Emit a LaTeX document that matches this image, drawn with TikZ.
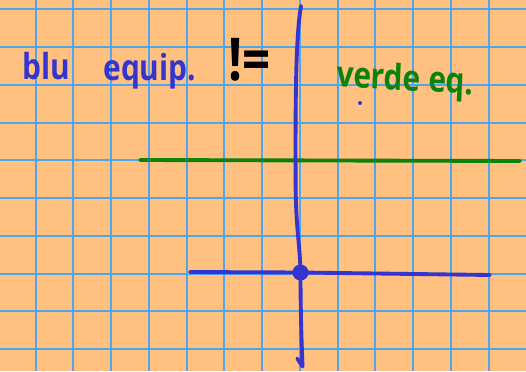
\documentclass[tikz,border=0pt]{standalone}
\usepackage{fontspec}
\setmainfont{Open Sans}
\definecolor{SheetOrange}{HTML}{FFC080}
\definecolor{SheetGrid}{HTML}{4EA6F0}
\definecolor{InkBlue}{HTML}{3434D0}
\definecolor{InkGreen}{HTML}{0C820C}
\tikzset{
  gridline/.style={draw=SheetGrid,line width=1.1pt},
  inkline/.style={line width=2.2pt,line cap=round,line join=round},
  inktext/.style={anchor=base west,inner sep=0pt,yscale=1.2,transform shape,
    font=\fontsize{17}{20}\selectfont\bfseries}
}

\begin{document}
\begin{tikzpicture}[x=0.02cm,y=-0.02cm]
        \useasboundingbox (0,0) rectangle (526,371);
        \fill[SheetOrange] (0,0) rectangle (526,371);
        % grid of the sheet
        \foreach \gx in {35.7,73.45,111.2,148.95,186.7,224.45,262.2,299.95,337.7,375.45,413.2,450.95,488.7} {
          \draw[gridline] (\gx,0) -- (\gx,371);
        }
        \foreach \gy in {9.3,47.05,84.8,122.55,160.3,198.05,235.8,273.55,311.3,349.05} {
          \draw[gridline] (0,\gy) -- (526,\gy);
        }
        % labels
        \node[inktext,text=InkBlue] (blu) at (22,80) {blu};
        \node[inktext,text=InkBlue] (equip) at (103,81) {equip.};
        \node[inktext,text=black,font=\fontsize{28}{32}\selectfont\bfseries] (neq) at (228,81) {!=};
        \node[inktext,text=InkGreen,rotate=-3] (verde) at (336,86) {verde eq.};
        \fill[InkBlue] (360,103) circle (2);
        % lines
        \coordinate (greenL) at (140,160);
        \coordinate (greenR) at (520,161);
        \draw[inkline,InkGreen] (greenL) -- (greenR);
        \coordinate (top) at (301,6);
        \coordinate (cross) at (300.5,272.5);
        \coordinate (bottom) at (302.5,366.5);
        \coordinate (blueL) at (190,272);
        \coordinate (blueR) at (490,275);
        \draw[inkline,InkBlue] (blueL) -- (cross) -- (blueR);
        \draw[inkline,InkBlue] (top) .. controls (295,40) and (295.5,120) .. (295.6,185)
          .. controls (296,230) and (300,245) .. (cross)
          .. controls (300.5,310) and (301.5,340) .. (bottom) -- (297.3,358.5);
        \fill[InkBlue] (cross) circle (8);
      \end{tikzpicture}
\end{document}
